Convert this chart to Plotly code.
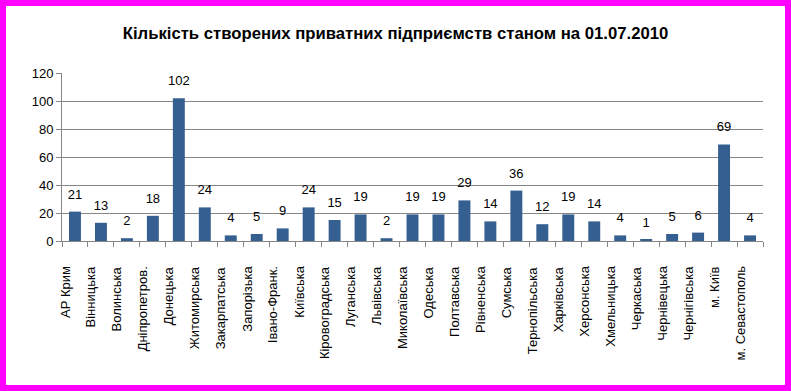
import plotly.graph_objects as go

categories = ["АР Крим", "Вінницька", "Волинська", "Дніпропетров.", "Донецька",
              "Житомирська", "Закарпатська", "Запорізька", "Івано-Франк.", "Київська",
              "Кіровоградська", "Луганська", "Львівська", "Миколаївська", "Одеська",
              "Полтавська", "Рівненська", "Сумська", "Тернопільська", "Харківська",
              "Херсонська", "Хмельницька", "Черкаська", "Чернівецька", "Чернігівська",
              "м. Київ", "м. Севастополь"]
values = [21, 13, 2, 18, 102, 24, 4, 5, 9, 24, 15, 19, 2, 19, 19, 29, 14, 36, 12, 19,
          14, 4, 1, 5, 6, 69, 4]
y_ticks = [0, 20, 40, 60, 80, 100, 120]
title_text = "Кількість створених приватних підприємств станом на 01.07.2010"

W, H = 791, 391
L, R, T, B = 62, 28, 73, 150

fig = go.Figure()
fig.add_trace(go.Bar(
    x=categories, y=values,
    marker=dict(color="#365F91", line=dict(width=0)),
    hoverinfo="x+y",
))
fig.add_trace(go.Scatter(
    x=categories, y=values, mode="markers+text",
    marker=dict(size=14, opacity=0),
    text=[str(v) for v in values], textposition="top center", cliponaxis=False,
    textfont=dict(family="Liberation Sans, Arial", size=13, color="#000000"),
    hoverinfo="skip",
))

# category labels (rotated), placed on the category axis
for c in categories:
    fig.add_annotation(x=c, xref="x", y=0, yref="paper", text=c, showarrow=False,
                       textangle=-90, xanchor="center", yanchor="top",
                       xshift=-10, yshift=-23,
                       font=dict(family="Liberation Sans, Arial", size=13, color="#000000"))

pw, ph = W - L - R, H - T - B
fig.add_shape(type="rect", xref="paper", yref="paper",
              x0=(-L + 3) / pw, x1=1 + (R - 3) / pw,
              y0=-(B - 3) / ph, y1=1 + (T - 3) / ph,
              line=dict(color="#FF00FF", width=6), layer="above")

fig.update_layout(
    width=W, height=H,
    margin=dict(l=L, r=R, t=T, b=B),
    paper_bgcolor="white", plot_bgcolor="white",
    bargap=0.54,
    showlegend=False,
    title=dict(text="<b>" + title_text + "</b>", x=0.5, xref="container", xanchor="center",
               y=1 - 33 / H, yanchor="middle",
               font=dict(family="Liberation Sans, Arial", size=16.7, color="#000000")),
    font=dict(family="Liberation Sans, Arial", color="#000000"),
    yaxis=dict(range=[0, 120], tickvals=y_ticks, showgrid=True, gridcolor="#868686", gridwidth=1,
               showline=True, linecolor="#868686", linewidth=1, ticks="outside", ticklen=5,
               tickcolor="#868686", tickfont=dict(size=13), zeroline=False),
    xaxis=dict(type="category", range=[-0.5, len(categories) - 0.5], showticklabels=False,
               showline=True, linecolor="#868686", linewidth=1,
               ticks="outside", tickson="boundaries", ticklen=5, tickcolor="#868686"),
)

fig.write_html("out.html", config={"displayModeBar": False},
               post_script="document.body.style.margin='0';document.body.style.padding='0';")
